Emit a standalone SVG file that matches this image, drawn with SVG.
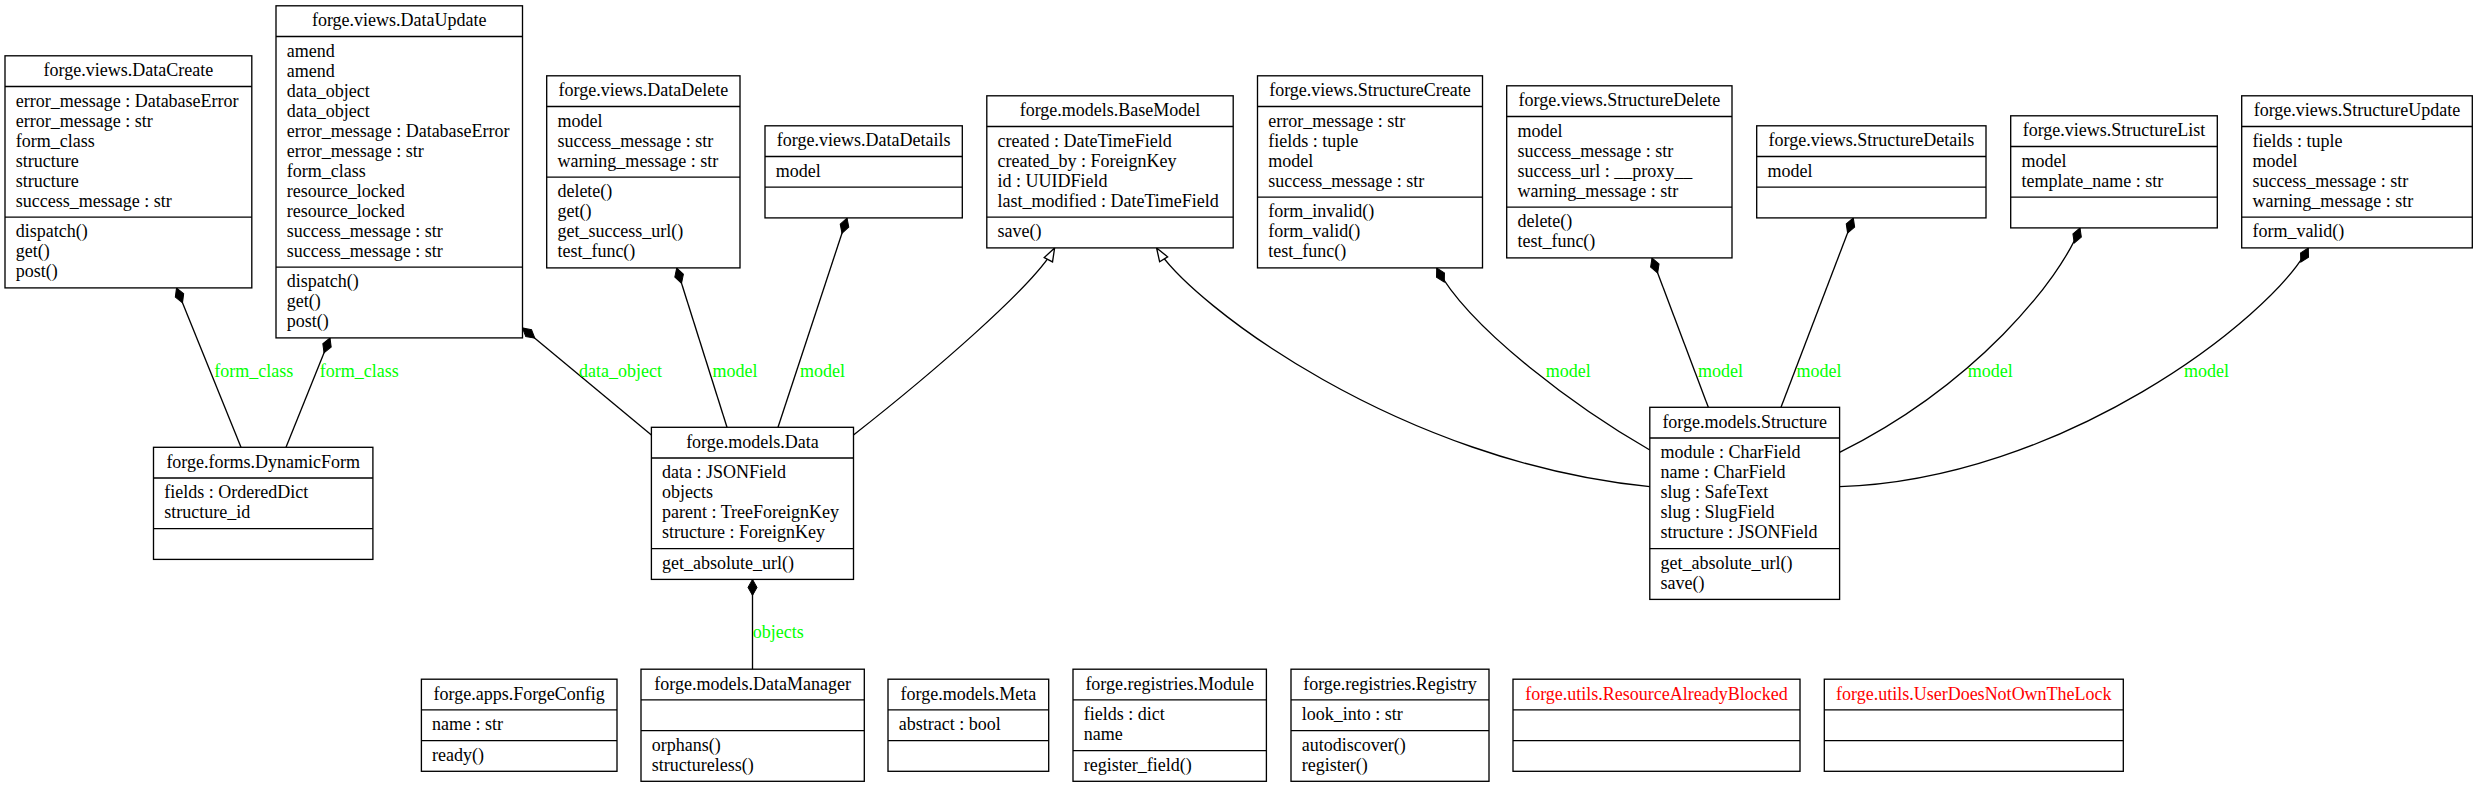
<svg xmlns="http://www.w3.org/2000/svg" width="2477" height="788" viewBox="0 0 2477 788">
<style>
text{font-family:"Liberation Serif","Times New Roman",serif;font-size:18px;fill:#000}
.t{text-anchor:middle}
.red{fill:#f00}
.lbl{fill:#0f0}
.box{fill:#fff;stroke:#000;stroke-width:1.33}
.sep{stroke:#000;stroke-width:1.33}
.edge{fill:none;stroke:#000;stroke-width:1.33}
.dia{marker-start:url(#dia)}
.inh{marker-start:url(#tri)}
</style>
<defs>
<marker id="dia" markerUnits="userSpaceOnUse" viewBox="-17 -6 18 12" markerWidth="18" markerHeight="12" refX="0" refY="0" orient="auto-start-reverse">
<polygon points="0,0 -8,-4.5 -16,0 -8,4.5" fill="#000" stroke="#000" stroke-width="1"/>
</marker>
<marker id="tri" markerUnits="userSpaceOnUse" viewBox="-15 -6 16 12" markerWidth="16" markerHeight="12" refX="0" refY="0" orient="auto-start-reverse">
<polygon points="0,0 -13.3,-4.7 -13.3,4.7" fill="#fff" stroke="#000" stroke-width="1.33"/>
</marker>
</defs>
<rect width="2477" height="788" fill="#fff"/>

<g id="edges">
<path class="edge dia" d="M176.5,288 L241,447.3"/>
<path class="edge dia" d="M330,338 L286,447.3"/>
<path class="edge dia" d="M522.5,328 L651.4,435"/>
<path class="edge dia" d="M676.7,268 L727,427.3"/>
<path class="edge dia" d="M847,218 L778,427.3"/>
<path class="edge inh" d="M1054.6,248 C1035,285 930,375 853.5,435"/>
<path class="edge inh" d="M1156.6,248 C1192,305 1400,462 1649.8,486.7"/>
<path class="edge dia" d="M1436.7,268 C1470,330 1580,410 1649.8,450"/>
<path class="edge dia" d="M1652,258 L1708.3,407.3"/>
<path class="edge dia" d="M1853.3,218 L1781,407.3"/>
<path class="edge dia" d="M2080,228 C2060,280 1975,385 1839.6,452.3"/>
<path class="edge dia" d="M2308.3,248 C2270,320 2060,480 1839.6,486.7"/>
<path class="edge dia" d="M752.5,579.4 L752.5,669.2"/>
<text class="lbl" x="214.2" y="377.3">form_class</text>
<text class="lbl" x="319.8" y="377.3">form_class</text>
<text class="lbl" x="579" y="377.3">data_object</text>
<text class="lbl" x="712.6" y="377.3">model</text>
<text class="lbl" x="800" y="377.3">model</text>
<text class="lbl" x="1545.7" y="377.3">model</text>
<text class="lbl" x="1698" y="377.3">model</text>
<text class="lbl" x="1796.4" y="377.3">model</text>
<text class="lbl" x="1967.7" y="377.3">model</text>
<text class="lbl" x="2184" y="377.3">model</text>
<text class="lbl" x="752.7" y="638.3">objects</text>
</g>

<g id="DataCreate">
<rect class="box" x="5" y="55.8" width="246.8" height="232.1"/>
<line class="sep" x1="5" y1="86.5" x2="251.8" y2="86.5"/>
<line class="sep" x1="5" y1="217.2" x2="251.8" y2="217.2"/>
<text class="t" x="128.4" y="76.1">forge.views.DataCreate</text>
<text x="15.7" y="106.9">error_message : DatabaseError</text>
<text x="15.7" y="126.9">error_message : str</text>
<text x="15.7" y="146.9">form_class</text>
<text x="15.7" y="166.9">structure</text>
<text x="15.7" y="186.9">structure</text>
<text x="15.7" y="206.9">success_message : str</text>
<text x="15.7" y="237.2">dispatch()</text>
<text x="15.7" y="257.2">get()</text>
<text x="15.7" y="277.2">post()</text>
</g>

<g id="DataUpdate">
<rect class="box" x="276" y="5.8" width="246.5" height="332.1"/>
<line class="sep" x1="276" y1="36.5" x2="522.5" y2="36.5"/>
<line class="sep" x1="276" y1="267.2" x2="522.5" y2="267.2"/>
<text class="t" x="399.25" y="26.1">forge.views.DataUpdate</text>
<text x="286.7" y="56.9">amend</text>
<text x="286.7" y="76.9">amend</text>
<text x="286.7" y="96.9">data_object</text>
<text x="286.7" y="116.9">data_object</text>
<text x="286.7" y="136.9">error_message : DatabaseError</text>
<text x="286.7" y="156.9">error_message : str</text>
<text x="286.7" y="176.9">form_class</text>
<text x="286.7" y="196.9">resource_locked</text>
<text x="286.7" y="216.9">resource_locked</text>
<text x="286.7" y="236.9">success_message : str</text>
<text x="286.7" y="256.9">success_message : str</text>
<text x="286.7" y="287.2">dispatch()</text>
<text x="286.7" y="307.2">get()</text>
<text x="286.7" y="327.2">post()</text>
</g>

<g id="DataDelete">
<rect class="box" x="546.7" y="75.8" width="193.3" height="192.1"/>
<line class="sep" x1="546.7" y1="106.5" x2="740" y2="106.5"/>
<line class="sep" x1="546.7" y1="177.2" x2="740" y2="177.2"/>
<text class="t" x="643.35" y="96.1">forge.views.DataDelete</text>
<text x="557.4" y="126.9">model</text>
<text x="557.4" y="146.9">success_message : str</text>
<text x="557.4" y="166.9">warning_message : str</text>
<text x="557.4" y="197.2">delete()</text>
<text x="557.4" y="217.2">get()</text>
<text x="557.4" y="237.2">get_success_url()</text>
<text x="557.4" y="257.2">test_func()</text>
</g>

<g id="DataDetails">
<rect class="box" x="765" y="125.8" width="197.3" height="92.1"/>
<line class="sep" x1="765" y1="156.5" x2="962.3" y2="156.5"/>
<line class="sep" x1="765" y1="187.2" x2="962.3" y2="187.2"/>
<text class="t" x="863.65" y="146.1">forge.views.DataDetails</text>
<text x="775.7" y="176.9">model</text>
</g>

<g id="BaseModel">
<rect class="box" x="986.8" y="95.8" width="246.4" height="152.1"/>
<line class="sep" x1="986.8" y1="126.5" x2="1233.2" y2="126.5"/>
<line class="sep" x1="986.8" y1="217.2" x2="1233.2" y2="217.2"/>
<text class="t" x="1110" y="116.1">forge.models.BaseModel</text>
<text x="997.5" y="146.9">created : DateTimeField</text>
<text x="997.5" y="166.9">created_by : ForeignKey</text>
<text x="997.5" y="186.9">id : UUIDField</text>
<text x="997.5" y="206.9">last_modified : DateTimeField</text>
<text x="997.5" y="237.2">save()</text>
</g>

<g id="StructureCreate">
<rect class="box" x="1257.5" y="75.8" width="225" height="192.1"/>
<line class="sep" x1="1257.5" y1="106.5" x2="1482.5" y2="106.5"/>
<line class="sep" x1="1257.5" y1="197.2" x2="1482.5" y2="197.2"/>
<text class="t" x="1370" y="96.1">forge.views.StructureCreate</text>
<text x="1268.2" y="126.9">error_message : str</text>
<text x="1268.2" y="146.9">fields : tuple</text>
<text x="1268.2" y="166.9">model</text>
<text x="1268.2" y="186.9">success_message : str</text>
<text x="1268.2" y="217.2">form_invalid()</text>
<text x="1268.2" y="237.2">form_valid()</text>
<text x="1268.2" y="257.2">test_func()</text>
</g>

<g id="StructureDelete">
<rect class="box" x="1506.7" y="85.8" width="225.3" height="172.1"/>
<line class="sep" x1="1506.7" y1="116.5" x2="1732" y2="116.5"/>
<line class="sep" x1="1506.7" y1="207.2" x2="1732" y2="207.2"/>
<text class="t" x="1619.35" y="106.1">forge.views.StructureDelete</text>
<text x="1517.4" y="136.9">model</text>
<text x="1517.4" y="156.9">success_message : str</text>
<text x="1517.4" y="176.9">success_url : __proxy__</text>
<text x="1517.4" y="196.9">warning_message : str</text>
<text x="1517.4" y="227.2">delete()</text>
<text x="1517.4" y="247.2">test_func()</text>
</g>

<g id="StructureDetails">
<rect class="box" x="1756.7" y="125.8" width="229.3" height="92.1"/>
<line class="sep" x1="1756.7" y1="156.5" x2="1986" y2="156.5"/>
<line class="sep" x1="1756.7" y1="187.2" x2="1986" y2="187.2"/>
<text class="t" x="1871.35" y="146.1">forge.views.StructureDetails</text>
<text x="1767.4" y="176.9">model</text>
</g>

<g id="StructureList">
<rect class="box" x="2010.7" y="115.8" width="206.6" height="112.1"/>
<line class="sep" x1="2010.7" y1="146.5" x2="2217.3" y2="146.5"/>
<line class="sep" x1="2010.7" y1="197.2" x2="2217.3" y2="197.2"/>
<text class="t" x="2114" y="136.1">forge.views.StructureList</text>
<text x="2021.4" y="166.9">model</text>
<text x="2021.4" y="186.9">template_name : str</text>
</g>

<g id="StructureUpdate">
<rect class="box" x="2241.7" y="95.8" width="230.6" height="152.1"/>
<line class="sep" x1="2241.7" y1="126.5" x2="2472.3" y2="126.5"/>
<line class="sep" x1="2241.7" y1="217.2" x2="2472.3" y2="217.2"/>
<text class="t" x="2357" y="116.1">forge.views.StructureUpdate</text>
<text x="2252.4" y="146.9">fields : tuple</text>
<text x="2252.4" y="166.9">model</text>
<text x="2252.4" y="186.9">success_message : str</text>
<text x="2252.4" y="206.9">warning_message : str</text>
<text x="2252.4" y="237.2">form_valid()</text>
</g>

<g id="DynamicForm">
<rect class="box" x="153.5" y="447.3" width="219.4" height="112.1"/>
<line class="sep" x1="153.5" y1="478" x2="372.9" y2="478"/>
<line class="sep" x1="153.5" y1="528.7" x2="372.9" y2="528.7"/>
<text class="t" x="263.2" y="467.6">forge.forms.DynamicForm</text>
<text x="164.2" y="498.4">fields : OrderedDict</text>
<text x="164.2" y="518.4">structure_id</text>
</g>

<g id="Data">
<rect class="box" x="651.4" y="427.3" width="202.1" height="152.1"/>
<line class="sep" x1="651.4" y1="458" x2="853.5" y2="458"/>
<line class="sep" x1="651.4" y1="548.7" x2="853.5" y2="548.7"/>
<text class="t" x="752.45" y="447.6">forge.models.Data</text>
<text x="662.1" y="478.4">data : JSONField</text>
<text x="662.1" y="498.4">objects</text>
<text x="662.1" y="518.4">parent : TreeForeignKey</text>
<text x="662.1" y="538.4">structure : ForeignKey</text>
<text x="662.1" y="568.7">get_absolute_url()</text>
</g>

<g id="Structure">
<rect class="box" x="1649.8" y="407.3" width="189.8" height="192.1"/>
<line class="sep" x1="1649.8" y1="438" x2="1839.6" y2="438"/>
<line class="sep" x1="1649.8" y1="548.7" x2="1839.6" y2="548.7"/>
<text class="t" x="1744.7" y="427.6">forge.models.Structure</text>
<text x="1660.5" y="458.4">module : CharField</text>
<text x="1660.5" y="478.4">name : CharField</text>
<text x="1660.5" y="498.4">slug : SafeText</text>
<text x="1660.5" y="518.4">slug : SlugField</text>
<text x="1660.5" y="538.4">structure : JSONField</text>
<text x="1660.5" y="568.7">get_absolute_url()</text>
<text x="1660.5" y="588.7">save()</text>
</g>

<g id="ForgeConfig">
<rect class="box" x="421.4" y="679.2" width="195.6" height="92.1"/>
<line class="sep" x1="421.4" y1="709.9" x2="617" y2="709.9"/>
<line class="sep" x1="421.4" y1="740.6" x2="617" y2="740.6"/>
<text class="t" x="519.2" y="699.5">forge.apps.ForgeConfig</text>
<text x="432.1" y="730.3">name : str</text>
<text x="432.1" y="760.6">ready()</text>
</g>

<g id="DataManager">
<rect class="box" x="641" y="669.2" width="223.3" height="112.1"/>
<line class="sep" x1="641" y1="699.9" x2="864.3" y2="699.9"/>
<line class="sep" x1="641" y1="730.6" x2="864.3" y2="730.6"/>
<text class="t" x="752.65" y="689.5">forge.models.DataManager</text>
<text x="651.7" y="750.6">orphans()</text>
<text x="651.7" y="770.6">structureless()</text>
</g>

<g id="Meta">
<rect class="box" x="888" y="679.2" width="160.7" height="92.1"/>
<line class="sep" x1="888" y1="709.9" x2="1048.7" y2="709.9"/>
<line class="sep" x1="888" y1="740.6" x2="1048.7" y2="740.6"/>
<text class="t" x="968.35" y="699.5">forge.models.Meta</text>
<text x="898.7" y="730.3">abstract : bool</text>
</g>

<g id="Module">
<rect class="box" x="1073" y="669.2" width="193.4" height="112.1"/>
<line class="sep" x1="1073" y1="699.9" x2="1266.4" y2="699.9"/>
<line class="sep" x1="1073" y1="750.6" x2="1266.4" y2="750.6"/>
<text class="t" x="1169.7" y="689.5">forge.registries.Module</text>
<text x="1083.7" y="720.3">fields : dict</text>
<text x="1083.7" y="740.3">name</text>
<text x="1083.7" y="770.6">register_field()</text>
</g>

<g id="Registry">
<rect class="box" x="1291" y="669.2" width="198" height="112.1"/>
<line class="sep" x1="1291" y1="699.9" x2="1489" y2="699.9"/>
<line class="sep" x1="1291" y1="730.6" x2="1489" y2="730.6"/>
<text class="t" x="1390" y="689.5">forge.registries.Registry</text>
<text x="1301.7" y="720.3">look_into : str</text>
<text x="1301.7" y="750.6">autodiscover()</text>
<text x="1301.7" y="770.6">register()</text>
</g>

<g id="ResourceAlreadyBlocked">
<rect class="box" x="1513" y="679.2" width="287" height="92.1"/>
<line class="sep" x1="1513" y1="709.9" x2="1800" y2="709.9"/>
<line class="sep" x1="1513" y1="740.6" x2="1800" y2="740.6"/>
<text class="t red" x="1656.5" y="699.5">forge.utils.ResourceAlreadyBlocked</text>
</g>

<g id="UserDoesNotOwnTheLock">
<rect class="box" x="1824.3" y="679.2" width="299" height="92.1"/>
<line class="sep" x1="1824.3" y1="709.9" x2="2123.3" y2="709.9"/>
<line class="sep" x1="1824.3" y1="740.6" x2="2123.3" y2="740.6"/>
<text class="t red" x="1973.8" y="699.5">forge.utils.UserDoesNotOwnTheLock</text>
</g>
</svg>
